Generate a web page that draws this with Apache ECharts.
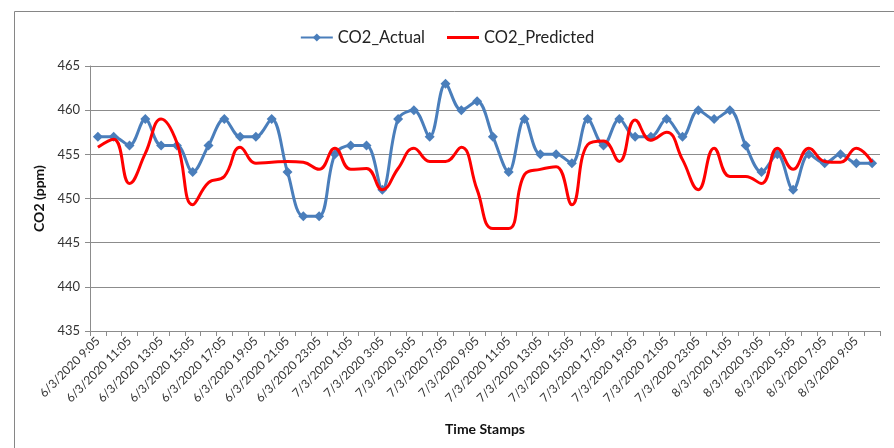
<!DOCTYPE html>
<html>
<head>
<meta charset="utf-8">
<script src="https://cdn.jsdelivr.net/npm/echarts@6/dist/echarts.min.js"></script>
<style>
  html, body { margin: 0; padding: 0; background: #fff; }
  #chart { width: 894px; height: 448px; }
</style>
</head>
<body>
<div id="chart"></div>
<script>
// Hourly readings, 6/3/2020 9:05 through 8/3/2020 10:05
const timeStamps = [
  '6/3/2020 9:05', '6/3/2020 10:05', '6/3/2020 11:05', '6/3/2020 12:05', '6/3/2020 13:05',
  '6/3/2020 14:05', '6/3/2020 15:05', '6/3/2020 16:05', '6/3/2020 17:05', '6/3/2020 18:05',
  '6/3/2020 19:05', '6/3/2020 20:05', '6/3/2020 21:05', '6/3/2020 22:05', '6/3/2020 23:05',
  '7/3/2020 0:05', '7/3/2020 1:05', '7/3/2020 2:05', '7/3/2020 3:05', '7/3/2020 4:05',
  '7/3/2020 5:05', '7/3/2020 6:05', '7/3/2020 7:05', '7/3/2020 8:05', '7/3/2020 9:05',
  '7/3/2020 10:05', '7/3/2020 11:05', '7/3/2020 12:05', '7/3/2020 13:05', '7/3/2020 14:05',
  '7/3/2020 15:05', '7/3/2020 16:05', '7/3/2020 17:05', '7/3/2020 18:05', '7/3/2020 19:05',
  '7/3/2020 20:05', '7/3/2020 21:05', '7/3/2020 22:05', '7/3/2020 23:05', '8/3/2020 0:05',
  '8/3/2020 1:05', '8/3/2020 2:05', '8/3/2020 3:05', '8/3/2020 4:05', '8/3/2020 5:05',
  '8/3/2020 6:05', '8/3/2020 7:05', '8/3/2020 8:05', '8/3/2020 9:05', '8/3/2020 10:05'
];

const co2Actual = [
  457, 457, 456, 459, 456, 456, 453, 456, 459, 457,
  457, 459, 453, 448, 448, 455, 456, 456, 451, 459,
  460, 457, 463, 460, 461, 457, 453, 459, 455, 455,
  454, 459, 456, 459, 457, 457, 459, 457, 460, 459,
  460, 456, 453, 455, 451, 455, 454, 455, 454, 454
];

const co2Predicted = [
  455.8, 456.7, 451.7, 455.1, 459.0, 456.3, 449.3, 451.8, 452.5, 455.8,
  454.0, 454.1, 454.2, 454.1, 453.3, 455.7, 453.3, 453.4, 451.0, 453.4,
  455.7, 454.2, 454.2, 455.8, 451.0, 446.6, 446.6, 452.7, 453.3, 453.6,
  449.3, 456.1, 456.5, 454.2, 458.9, 456.6, 457.5, 454.4, 451.0, 455.7,
  452.5, 452.5, 451.7, 455.7, 453.3, 455.7, 454.2, 454.1, 455.7, 454.1
];

const yMin = 435, yMax = 465, yStep = 5;
const FONT = 'Lato, "Liberation Sans", sans-serif';

const chart = echarts.init(document.getElementById('chart'), null, { renderer: 'canvas' });

chart.setOption({
  animation: false,
  backgroundColor: '#ffffff',
  textStyle: { fontFamily: FONT },
  graphic: [{
    type: 'rect',
    silent: true,
    shape: { x: 14.5, y: 11.5, width: 900, height: 460 },
    style: { fill: 'none', stroke: '#868686', lineWidth: 1 }
  }],
  legend: {
    top: 24,
    left: 'center',
    itemWidth: 32,
    itemHeight: 10,
    itemGap: 22,
    textStyle: { fontFamily: FONT, fontSize: 16.5, color: '#222' },
    data: [
      'CO2_Actual',
      // plain line swatch for the prediction curve
      { name: 'CO2_Predicted', icon: 'path://M0,0 L32,0 L32,3 L0,3 Z' }
    ]
  },
  grid: { left: 90, right: 14, top: 66, bottom: 117, containLabel: false },
  xAxis: {
    type: 'category',
    data: timeStamps,
    boundaryGap: true,
    name: 'Time Stamps',
    nameLocation: 'middle',
    nameGap: 91,
    nameTextStyle: { fontFamily: FONT, fontSize: 14, fontWeight: 'bold', color: '#111' },
    axisLine: { lineStyle: { color: '#8c8c8c', width: 1 } },
    axisTick: { show: true, interval: 0, length: 5, lineStyle: { color: '#8c8c8c' } },
    axisLabel: {
      interval: 1,
      rotate: 45,
      margin: 8,
      fontFamily: FONT,
      fontSize: 12,
      color: '#333'
    },
    splitLine: { show: false }
  },
  yAxis: {
    type: 'value',
    min: yMin,
    max: yMax,
    interval: yStep,
    name: 'CO2 (ppm)',
    nameLocation: 'middle',
    nameRotate: 90,
    nameGap: 40,
    nameTextStyle: { fontFamily: FONT, fontSize: 14, fontWeight: 'bold', color: '#111' },
    axisLine: { show: true, lineStyle: { color: '#8c8c8c', width: 1 } },
    axisTick: { show: true, length: 5, lineStyle: { color: '#8c8c8c' } },
    axisLabel: { margin: 10, fontFamily: FONT, fontSize: 13, color: '#333' },
    splitLine: { show: true, lineStyle: { color: '#8c8c8c', width: 1 } }
  },
  series: [
    {
      name: 'CO2_Actual',
      type: 'line',
      data: co2Actual,
      smooth: 0.35,
      symbol: 'diamond',
      symbolSize: 10,
      showSymbol: true,
      lineStyle: { color: '#4a7ebb', width: 3 },
      itemStyle: { color: '#4a7ebb' },
      z: 2
    },
    {
      name: 'CO2_Predicted',
      type: 'line',
      data: co2Predicted,
      smooth: 0.45,
      symbol: 'none',
      showSymbol: false,
      lineStyle: { color: '#ff0000', width: 3 },
      itemStyle: { color: '#ff0000' },
      z: 3
    }
  ]
});
</script>
</body>
</html>
